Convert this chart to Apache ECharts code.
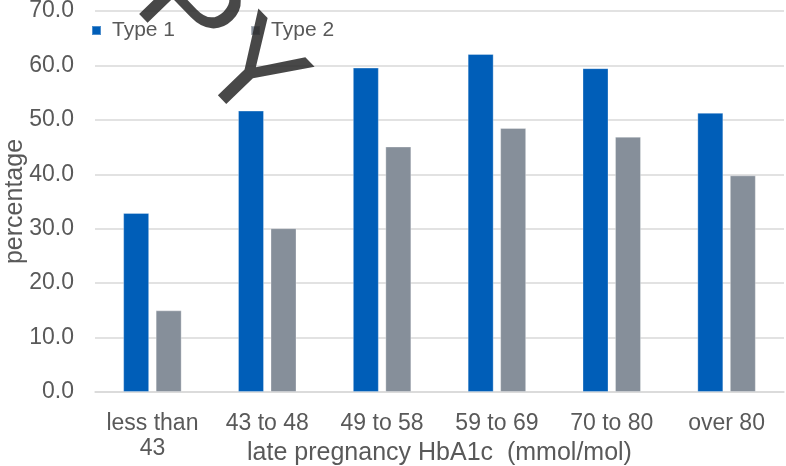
<!DOCTYPE html>
<html>
<head>
<meta charset="utf-8">
<script src="https://cdn.jsdelivr.net/npm/echarts@6/dist/echarts.min.js"></script>
<style>
  html, body { margin: 0; padding: 0; background: #ffffff; }
  #chart { width: 786px; height: 466px; }
</style>
</head>
<body>
<div id="chart"></div>
<script>
// HbA1c bands in late pregnancy
const categories = ['less than\n43', '43 to 48', '49 to 58', '59 to 69', '70 to 80', 'over 80'];
// percentage per band, by diabetes type
const type1Values = [32.9, 51.7, 59.6, 62.1, 59.5, 51.3];
const type2Values = [15.0, 30.1, 45.1, 48.5, 46.9, 39.8];
const seriesNames = ['Type 1', 'Type 2'];

const FONT = 'Liberation Sans, Arial, sans-serif';
const TEXT = '#595959';
const GRID = '#d9d9d9';

const chart = echarts.init(document.getElementById('chart'), null, { renderer: 'canvas' });

chart.setOption({
  animation: false,
  backgroundColor: '#ffffff',
  textStyle: { fontFamily: FONT },
  grid: { left: 95, right: 2, top: 11, bottom: 74, containLabel: false, outerBoundsMode: 'none' },
  legend: {
    left: 91,
    top: 20,
    padding: 0,
    icon: 'rect',
    itemWidth: 9,
    itemHeight: 9,
    itemGap: 75,
    data: seriesNames,
    textStyle: { fontSize: 21, color: TEXT, fontFamily: FONT, padding: [0, 0, 0, 6] }
  },
  xAxis: {
    type: 'category',
    data: categories,
    name: 'late pregnancy HbA1c  (mmol/mol)',
    nameLocation: 'middle',
    nameGap: 49,
    nameMoveOverlap: false,
    nameTextStyle: { fontSize: 25, color: TEXT, fontFamily: FONT },
    axisLine: { lineStyle: { color: GRID, width: 1.5 } },
    axisTick: { show: false },
    axisLabel: { interval: 0, fontSize: 23, lineHeight: 25, color: TEXT, margin: 19, fontFamily: FONT }
  },
  yAxis: {
    type: 'value',
    min: 0,
    max: 70,
    interval: 10,
    name: 'percentage',
    nameLocation: 'middle',
    nameGap: 67,
    nameMoveOverlap: false,
    nameTextStyle: { fontSize: 25, color: TEXT, fontFamily: FONT },
    axisLine: { show: false },
    axisTick: { show: false },
    axisLabel: { fontSize: 23, color: TEXT, margin: 21, fontFamily: FONT, formatter: v => v.toFixed(1) },
    splitLine: { lineStyle: { color: GRID, width: 1.5 } }
  },
  series: [
    {
      name: seriesNames[0],
      type: 'bar',
      data: type1Values,
      barWidth: 26,
      barGap: '25%',
      itemStyle: { color: '#005EB8', borderColor: 'rgba(255,255,255,0.3)', borderWidth: 1 }
    },
    {
      name: seriesNames[1],
      type: 'bar',
      data: type2Values,
      barWidth: 26,
      itemStyle: { color: '#868F9A', borderColor: 'rgba(255,255,255,0.3)', borderWidth: 1 }
    }
  ],
  graphic: [
    {
      // diagonal watermark laid over the plot
      type: 'text',
      z: 100,
      x: 278,
      y: 106,
      rotation: -46 * Math.PI / 180,
      style: {
        text: 'COPY',
        font: '130px ' + FONT,
        fill: 'rgba(40,40,40,0.85)',
        align: 'right',
        verticalAlign: 'middle'
      }
    }
  ]
});
</script>
</body>
</html>
